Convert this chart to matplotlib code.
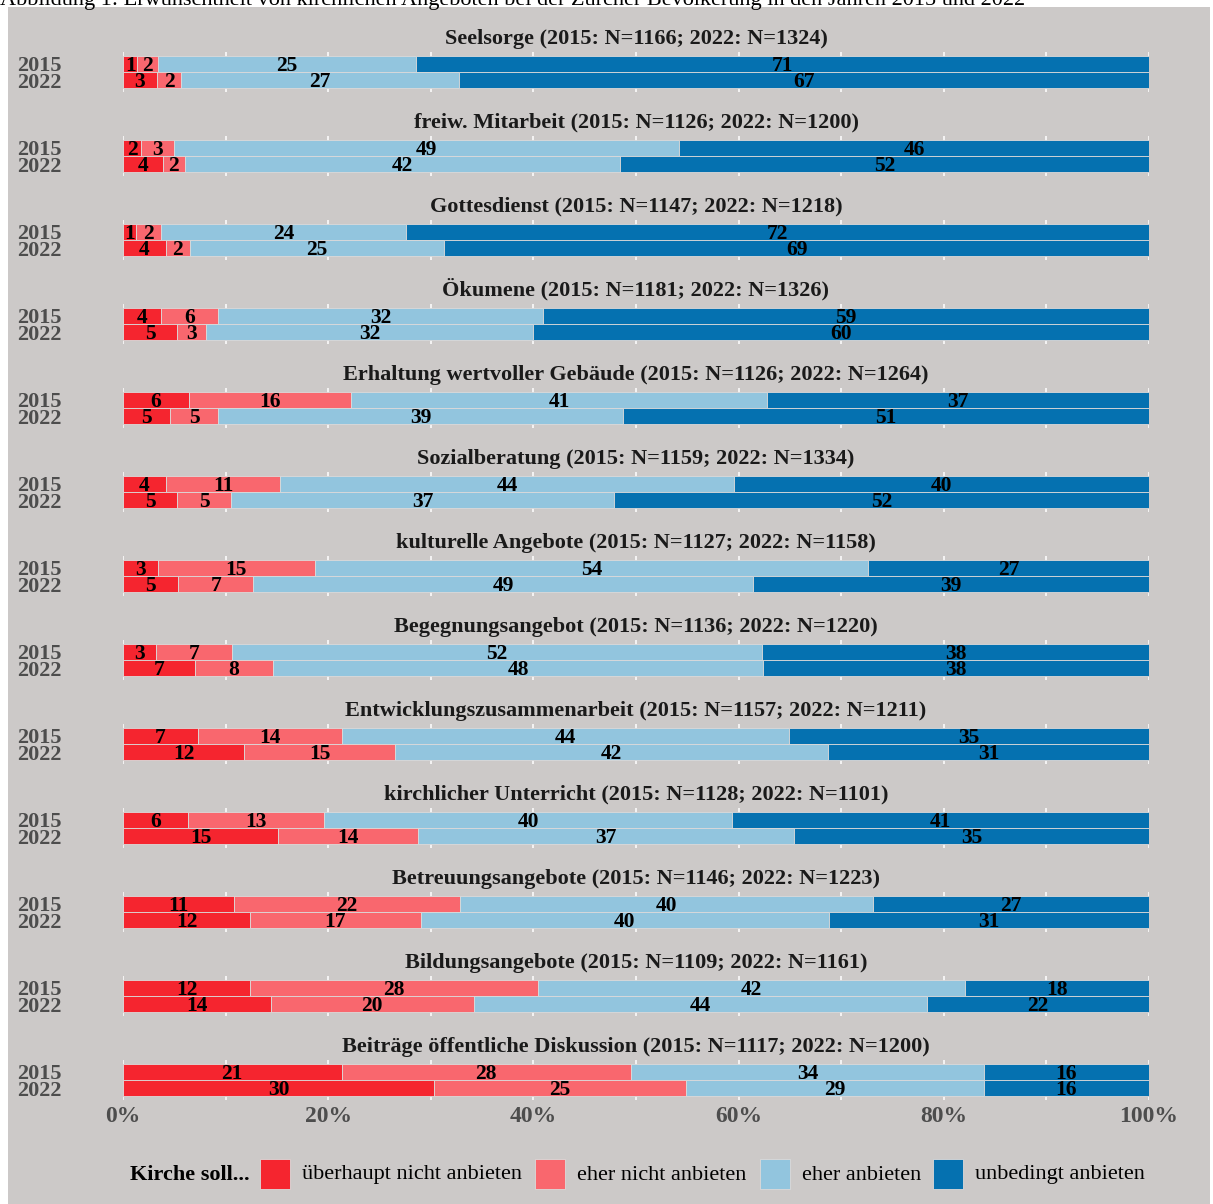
import matplotlib.pyplot as plt
from matplotlib.patches import Rectangle

# categories (top to bottom) and sample sizes
categories = ["Seelsorge", "freiw. Mitarbeit", "Gottesdienst", "Ökumene",
              "Erhaltung wertvoller Gebäude", "Sozialberatung", "kulturelle Angebote",
              "Begegnungsangebot", "Entwicklungszusammenarbeit", "kirchlicher Unterricht",
              "Betreuungsangebote", "Bildungsangebote", "Beiträge öffentliche Diskussion"]
n_2015 = [1166, 1126, 1147, 1181, 1126, 1159, 1127, 1136, 1157, 1128, 1146, 1109, 1117]
n_2022 = [1324, 1200, 1218, 1326, 1264, 1334, 1158, 1220, 1211, 1101, 1223, 1161, 1200]

# percentages 2015
nicht_2015 = [1.4, 1.8, 1.3, 3.7, 6.4, 4.2, 3.4, 3.2, 7.3, 6.3, 10.8, 12.4, 21.3]
eher_nicht_2015 = [2.0, 3.2, 2.4, 5.6, 15.8, 11.1, 15.3, 7.4, 14.0, 13.3, 22.0, 28.0, 28.2]
eher_2015 = [25.2, 49.2, 23.9, 31.6, 40.6, 44.3, 53.9, 51.7, 43.6, 39.8, 40.3, 41.7, 34.4]
unbedingt_2015 = [71.4, 45.8, 72.4, 59.1, 37.2, 40.4, 27.4, 37.7, 35.1, 40.6, 26.9, 17.9, 16.1]

# percentages 2022
nicht_2022 = [3.3, 3.9, 4.2, 5.3, 4.6, 5.3, 5.4, 7.0, 11.8, 15.1, 12.4, 14.4, 30.3]
eher_nicht_2022 = [2.4, 2.1, 2.3, 2.8, 4.7, 5.2, 7.3, 7.6, 14.7, 13.7, 16.6, 19.8, 24.6]
eher_2022 = [27.0, 42.4, 24.8, 31.9, 39.4, 37.4, 48.7, 47.8, 42.2, 36.6, 39.8, 44.2, 29.0]
unbedingt_2022 = [67.3, 51.6, 68.7, 60.0, 51.3, 52.1, 38.6, 37.6, 31.3, 34.6, 31.2, 21.6, 16.1]

legend_labels = ["überhaupt nicht anbieten", "eher nicht anbieten", "eher anbieten", "unbedingt anbieten"]
colors = ["#f5252f", "#f9676e", "#92c5de", "#0571b0"]
years = ["2015", "2022"]

W, H = 1213, 1204
BG = "#ccc9c8"
SERIF = ["Liberation Serif", "DejaVu Serif"]
plt.rcParams['font.family'] = SERIF

fig = plt.figure(figsize=(W / 100, H / 100), dpi=100, facecolor="white")


def fx(x):
    return x / W


def fy(y):
    return 1 - y / H


# grey plot background and the cut-off caption above it
fig.patches.append(Rectangle((fx(8), 0), fx(1210) - fx(8), fy(7), transform=fig.transFigure,
                             facecolor=BG, edgecolor="none", zorder=-10))
fig.text(fx(0), fy(5), "Abbildung 1: Erwünschtheit von kirchlichen Angeboten bei der Zürcher "
         "Bevölkerung in den Jahren 2015 und 2022", fontsize=16, va="baseline", ha="left")

left, right = 123, 1149
panel_h = 40
for i, cat in enumerate(categories):
    top = 52 + 84 * i
    ax = fig.add_axes([fx(left), fy(top + panel_h), fx(right) - fx(left), panel_h / H])
    ax.set_facecolor("none")
    rows = [
        [nicht_2015[i], eher_nicht_2015[i], eher_2015[i], unbedingt_2015[i]],
        [nicht_2022[i], eher_nicht_2022[i], eher_2022[i], unbedingt_2022[i]],
    ]
    ypos = [1, 0]
    for row, y in zip(rows, ypos):
        start = 0
        for val, col in zip(row, colors):
            ax.barh(y, val, left=start, height=0.96, color=col, edgecolor="#dcdada",
                    linewidth=0.6, zorder=2)
            ax.text(start + val / 2, y - 0.12, f"{round(val)}", ha="center", va="center",
                    fontsize=15.5, fontweight="bold", color="black", zorder=3)
            start += val
    ax.set_xlim(0, 100)
    ax.set_ylim(-0.7, 1.7)
    ax.set_xticks(range(0, 101, 20))
    ax.set_xticks(range(10, 100, 20), minor=True)
    ax.grid(True, which="both", axis="x", color="white", linewidth=1.1, zorder=0)
    ax.set_axisbelow(True)
    ax.set_yticks(ypos)
    ax.set_yticklabels(years, fontsize=16, fontweight="bold", color="#4d4d4d")
    ax.tick_params(axis="y", length=0, pad=44)
    ax.tick_params(axis="x", which="both", length=0)
    if i == len(categories) - 1:
        ax.set_xticklabels([f"{t}%" for t in range(0, 101, 20)], fontsize=17,
                           fontweight="bold", color="#4d4d4d")
        ax.tick_params(axis="x", pad=4)
    else:
        ax.set_xticklabels([])
    for s in ax.spines.values():
        s.set_visible(False)
    ax.set_title(f"{cat} (2015: N={n_2015[i]}; 2022: N={n_2022[i]})", fontsize=16,
                 fontweight="bold", color="#1a1a1a", pad=6)

# legend drawn by hand, ggplot style
ly = 1175
fig.text(fx(130), fy(ly), "Kirche soll...", fontsize=16, fontweight="bold",
         ha="left", va="center")
box_x = [260, 535, 760, 933]
for bx, col, lab in zip(box_x, colors, legend_labels):
    fig.patches.append(Rectangle((fx(bx), fy(ly + 14)), 30 / W, 30 / H,
                                 transform=fig.transFigure, facecolor=col,
                                 edgecolor="#dcdada", linewidth=0.6))
    fig.text(fx(bx + 42), fy(ly), lab, fontsize=16, ha="left", va="center")

fig.savefig("out.png", dpi=100, facecolor="white")
